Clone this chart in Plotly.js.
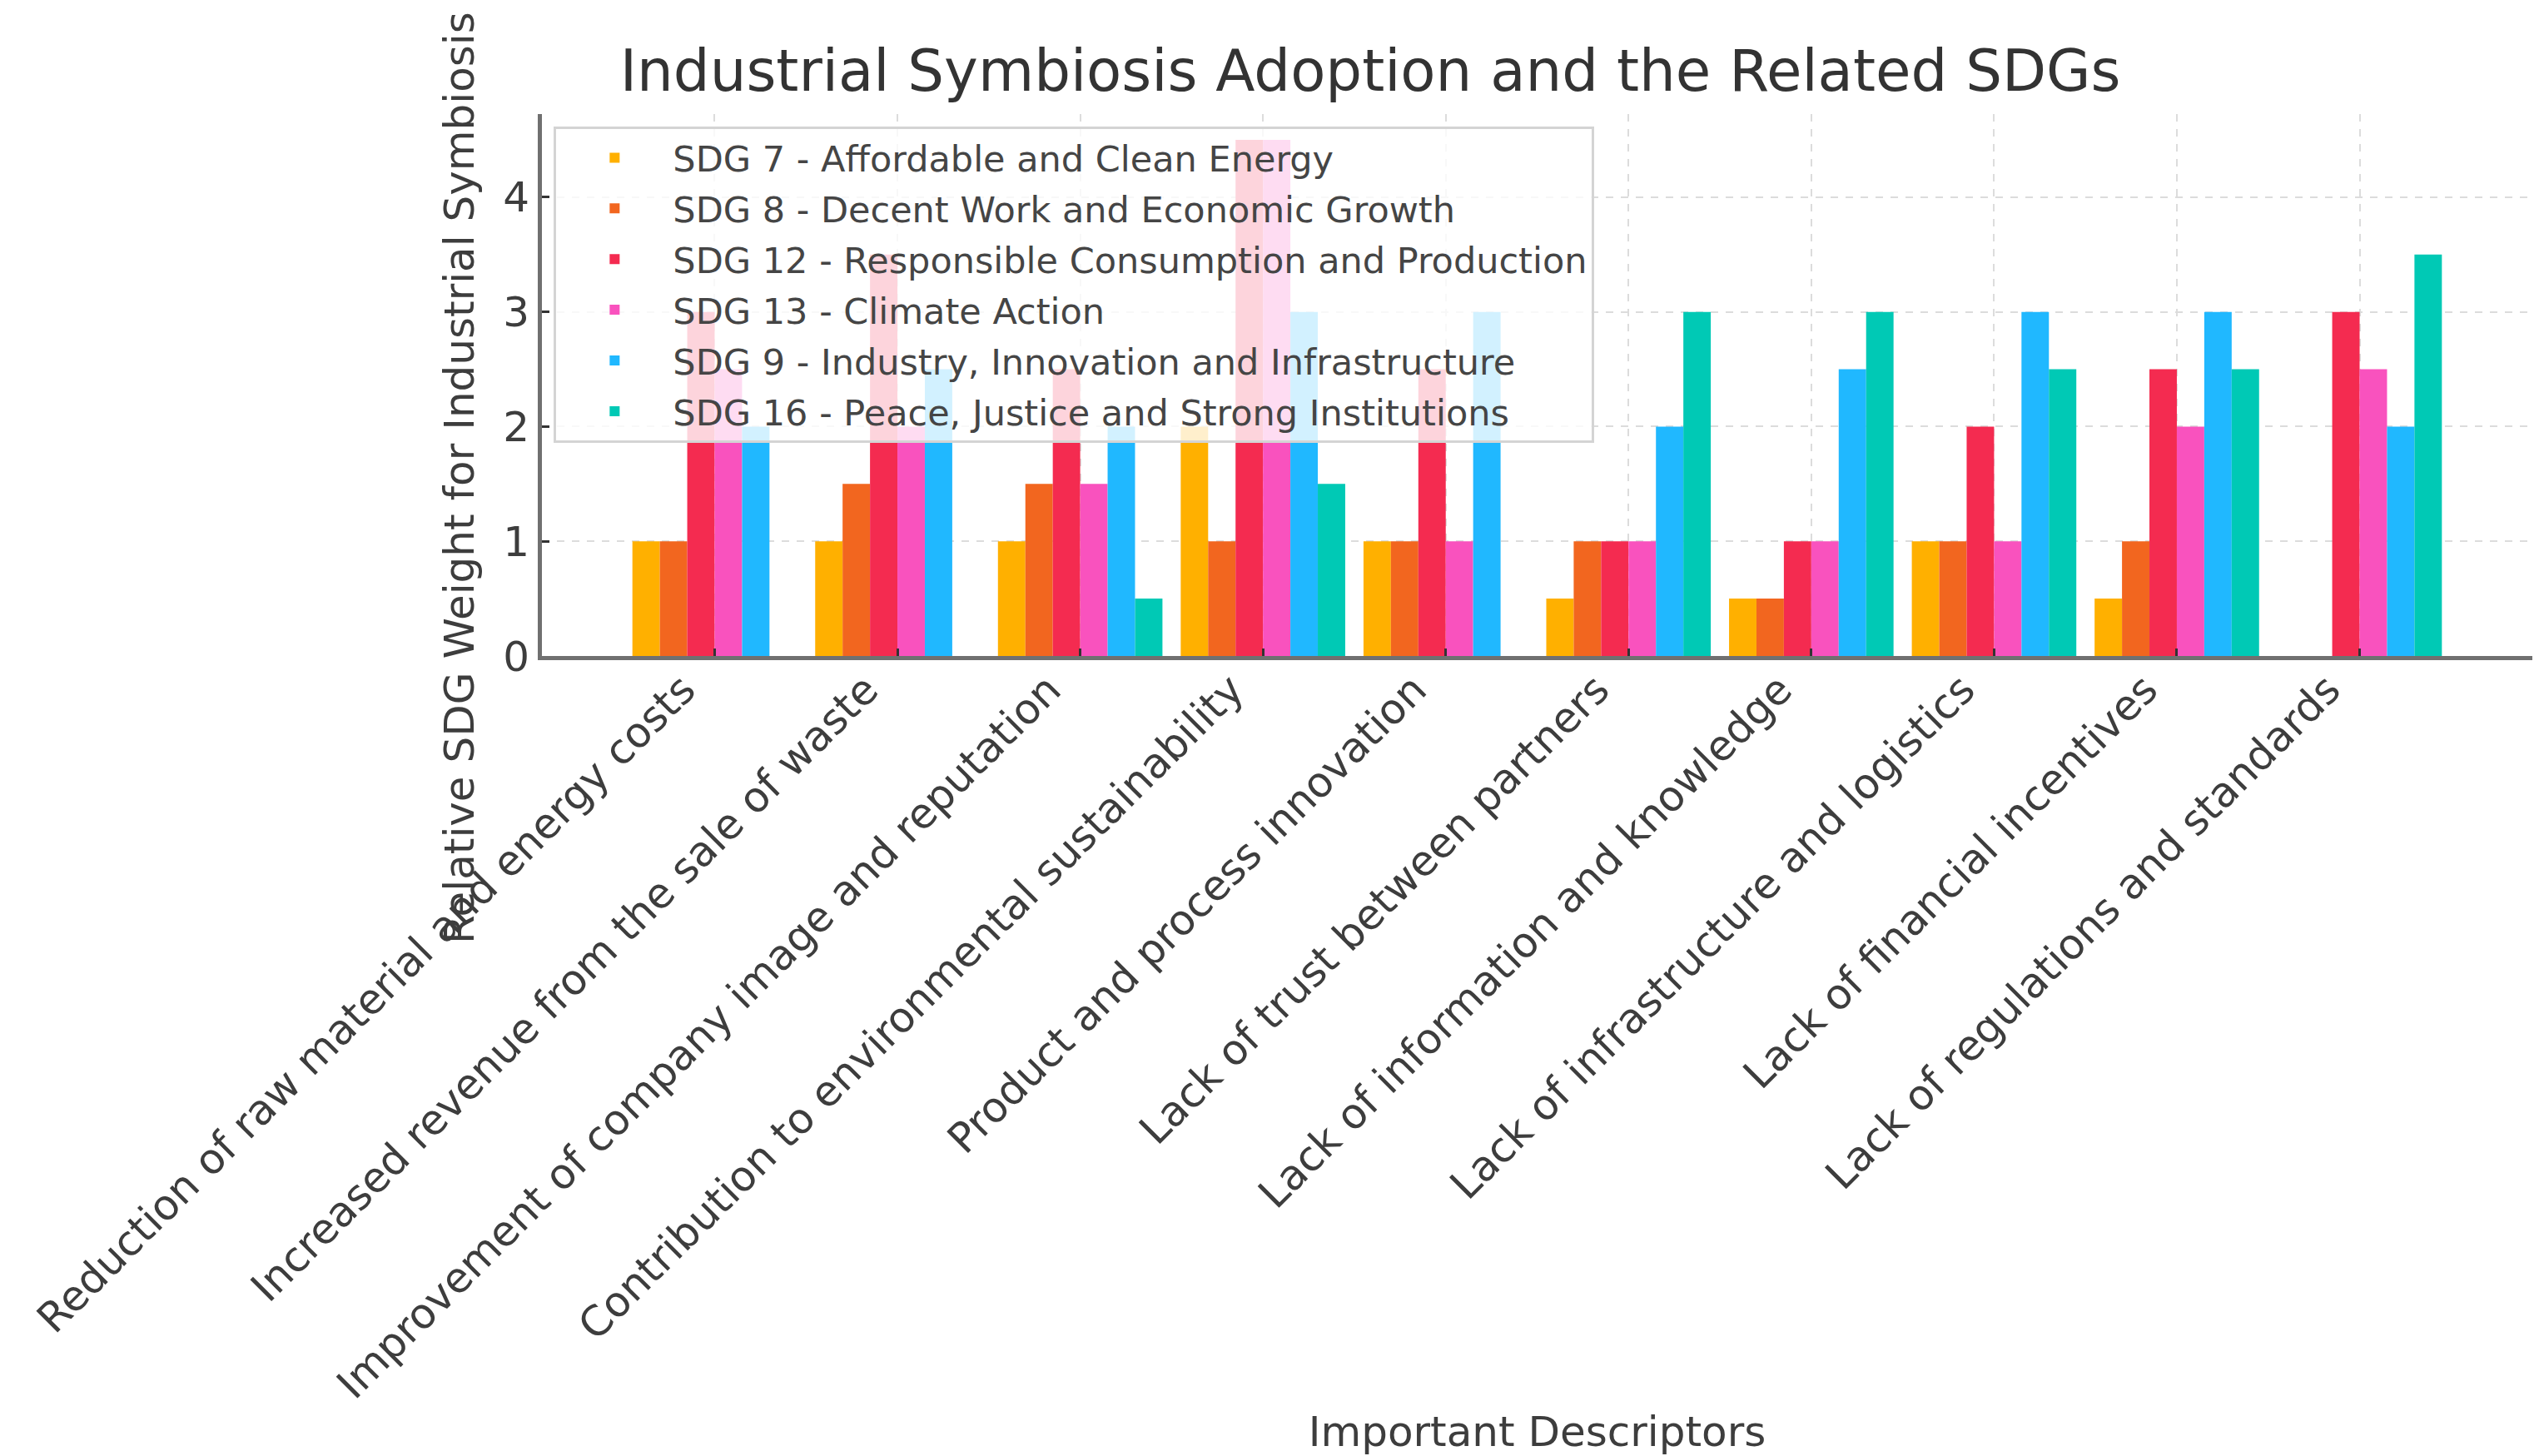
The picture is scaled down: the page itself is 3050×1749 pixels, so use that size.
<!DOCTYPE html>
<html>
<head>
<meta charset="utf-8">
<script src="https://cdn.plot.ly/plotly-3.0.1.min.js"></script>
<style>html,body{margin:0;padding:0;background:#fff;}#chart{width:3050px;height:1749px;}</style>
</head>
<body>
<div id="chart"></div>
<script>
const categories = [
  "Reduction of raw material and energy costs",
  "Increased revenue from the sale of waste",
  "Improvement of company image and reputation",
  "Contribution to environmental sustainability",
  "Product and process innovation",
  "Lack of trust between partners",
  "Lack of information and knowledge",
  "Lack of infrastructure and logistics",
  "Lack of financial incentives",
  "Lack of regulations and standards"
];
const seriesNames = [
  "SDG 7 - Affordable and Clean Energy",
  "SDG 8 - Decent Work and Economic Growth",
  "SDG 12 - Responsible Consumption and Production",
  "SDG 13 - Climate Action",
  "SDG 9 - Industry, Innovation and Infrastructure",
  "SDG 16 - Peace, Justice and Strong Institutions"
];
const sdg7  = [1, 1, 1, 2, 1, 0.5, 0.5, 1, 0.5, 0];
const sdg8  = [1, 1.5, 1.5, 1, 1, 1, 0.5, 1, 1, 0];
const sdg12 = [3, 3.5, 2.5, 4.5, 2.5, 1, 1, 2, 2.5, 3];
const sdg13 = [2.5, 2, 1.5, 4.5, 1, 1, 1, 1, 2, 2.5];
const sdg9  = [2, 2.5, 2, 3, 3, 2, 2.5, 3, 3, 2];
const sdg16 = [0, 0, 0.5, 1.5, 0, 3, 3, 2.5, 2.5, 3.5];
const seriesValues = [sdg7, sdg8, sdg12, sdg13, sdg9, sdg16];
const colors = ["#FFB000", "#F2661F", "#F42B50", "#F952BE", "#20B8FF", "#00C9B5"];

const traces = seriesValues.map((vals, i) => ({
  type: "bar",
  name: seriesNames[i],
  x: categories,
  y: vals,
  marker: {color: colors[i], line: {width: 0}},
  legendgroup: "g" + i,
  hoverinfo: "x+y+name"
}));

const textColor = "#3d3d3d";
const layout = {
  width: 3050,
  height: 1749,
  paper_bgcolor: "#ffffff",
  plot_bgcolor: "#ffffff",
  font: {family: "DejaVu Sans, sans-serif", color: textColor, size: 50},
  margin: {l: 651, r: 8, t: 137, b: 961, pad: 0},
  barmode: "group",
  bargap: 0.1,
  bargroupgap: 0,
  title: {
    text: "Industrial Symbiosis Adoption and the Related SDGs",
    font: {family: "DejaVu Sans, sans-serif", size: 69, color: "#333333"},
    x: 0.4162, xref: "paper", xanchor: "center",
    y: 1 - 85 / 1749, yref: "container", yanchor: "middle"
  },
  xaxis: {
    type: "category",
    range: [-0.945, 9.945],
    tickangle: -45,
    tickfont: {size: 50, color: textColor},
    ticklabelshift: -38,
    ticklabelstandoff: -14,
    showline: true, linecolor: "#707070", linewidth: 5,
    ticks: "inside", ticklen: 9, tickwidth: 3, tickcolor: "#333333",
    showgrid: true, gridcolor: "#dcdcdc", gridwidth: 2, griddash: "dash",
    zeroline: false,
    automargin: false,
    title: {text: "Important Descriptors", font: {size: 50, color: textColor}, standoff: 20}
  },
  yaxis: {
    range: [0, 4.725],
    tickvals: [0, 1, 2, 3, 4],
    tickfont: {size: 50, color: textColor},
    showline: true, linecolor: "#707070", linewidth: 5,
    ticks: "inside", ticklen: 9, tickwidth: 3, tickcolor: "#333333",
    showgrid: true, gridcolor: "#dcdcdc", gridwidth: 2, griddash: "dash",
    zeroline: false,
    automargin: false
  },
  legend: {
    x: 0.006, y: 0.977, xanchor: "left", yanchor: "top",
    bgcolor: "rgba(255,255,255,0.8)",
    bordercolor: "#d4d4d4", borderwidth: 3,
    font: {size: 43, color: "#454545"},
    itemwidth: 130,
    tracegroupgap: 2,
    traceorder: "grouped"
  },
  annotations: [{
    text: "Relative SDG Weight for Industrial Symbiosis",
    xref: "paper", yref: "paper",
    x: (552 - 651) / 2391, y: (788 - 574) / 651,
    xanchor: "center", yanchor: "middle",
    textangle: -90, showarrow: false,
    font: {size: 50, color: textColor}
  }]
};

Plotly.newPlot("chart", traces, layout, {displayModeBar: false, staticPlot: true});
</script>
</body>
</html>
